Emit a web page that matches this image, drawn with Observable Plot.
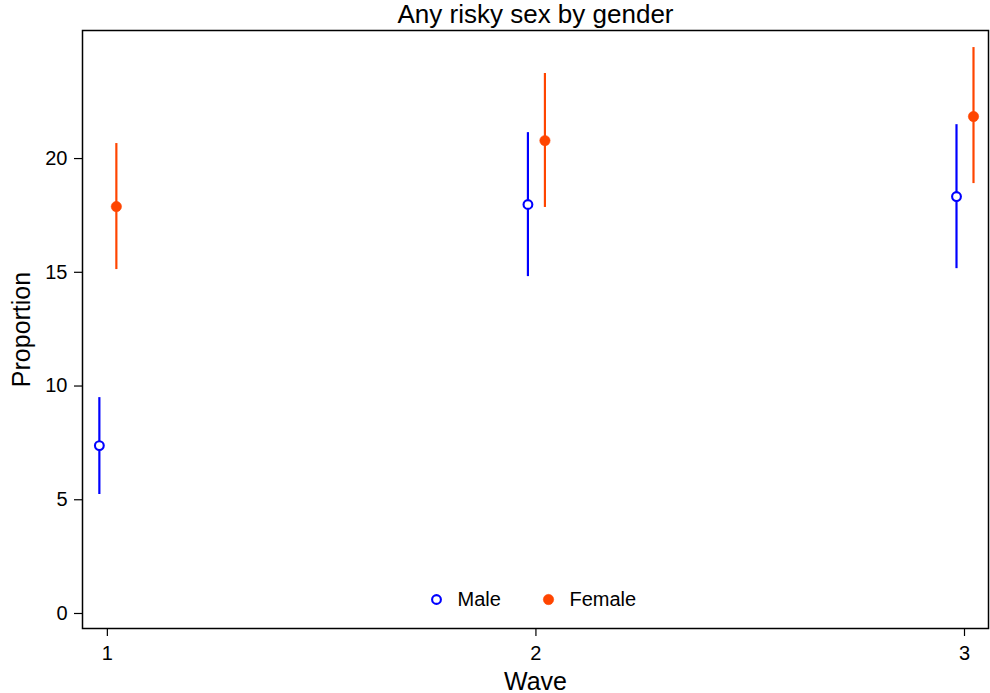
<!DOCTYPE html>
<html>
<head>
<meta charset="utf-8">
<script src="https://cdn.jsdelivr.net/npm/d3@7"></script>
<script src="https://cdn.jsdelivr.net/npm/@observablehq/plot@0.6"></script>
<style>
  html, body { margin: 0; padding: 0; background: #fff; }
  #chart { width: 990px; height: 693px; }
</style>
</head>
<body>
<div id="chart"></div>
<script>
const waves = [1, 2, 3];
const maleEst = [7.38, 17.98, 18.33];
const maleLo = [5.23, 14.81, 15.16];
const maleHi = [9.49, 21.14, 21.49];
const femaleEst = [17.89, 20.79, 21.85];
const femaleLo = [15.12, 17.85, 18.90];
const femaleHi = [20.66, 23.74, 24.88];
const yTicks = [0, 5, 10, 15, 20];
const xTicks = [1, 2, 3];
const seriesNames = ["Male", "Female"];
const title = "Any risky sex by gender";

const male = waves.map((w, i) => ({wave: w, est: maleEst[i], lo: maleLo[i], hi: maleHi[i]}));
const female = waves.map((w, i) => ({wave: w, est: femaleEst[i], lo: femaleLo[i], hi: femaleHi[i]}));

const BLUE = "#0000ff";
const ORANGE = "#ff4500";
const FONT = "'Liberation Sans', Arial, Helvetica, sans-serif";

const plot = Plot.plot({
  width: 990,
  height: 693,
  marginLeft: 82,
  marginRight: 2,
  marginTop: 30,
  marginBottom: 65,
  style: {fontFamily: FONT, fontSize: "20px", color: "#000", background: "#fff"},
  x: {domain: [0.942, 3.056]},
  y: {domain: [-0.66, 25.63]},
  marks: [
    Plot.frame({stroke: "#000", strokeWidth: 1.5}),
    Plot.axisY({ticks: yTicks, tickSize: 8, tickPadding: 7, tickFormat: d => d, label: null, fontSize: 20, strokeWidth: 1.2}),
    Plot.axisX({ticks: xTicks, tickSize: 8, tickPadding: 9, tickFormat: d => d, label: null, fontSize: 20, strokeWidth: 1.2}),
    Plot.ruleX(male, {x: "wave", y1: "lo", y2: "hi", stroke: BLUE, strokeWidth: 2.2, dx: -8}),
    Plot.ruleX(female, {x: "wave", y1: "lo", y2: "hi", stroke: ORANGE, strokeWidth: 2.2, dx: 9}),
    Plot.dot(male, {x: "wave", y: "est", r: 4.4, stroke: BLUE, strokeWidth: 2.1, fill: "#fff", dx: -8}),
    Plot.dot(female, {x: "wave", y: "est", r: 5.2, fill: ORANGE, stroke: ORANGE, strokeWidth: 0.5, dx: 9}),
    // legend
    Plot.dot([seriesNames[0]], {frameAnchor: "bottom", dx: -99, dy: -29, r: 4.4, stroke: BLUE, strokeWidth: 2.1, fill: "#fff"}),
    Plot.dot([seriesNames[1]], {frameAnchor: "bottom", dx: 13, dy: -29, r: 5.2, fill: ORANGE, stroke: ORANGE, strokeWidth: 0.5}),
    Plot.text([seriesNames[0]], {frameAnchor: "bottom", text: d => d, dx: -78, dy: -29, textAnchor: "start", lineAnchor: "middle", fontSize: 20, fill: "#000"}),
    Plot.text([seriesNames[1]], {frameAnchor: "bottom", text: d => d, dx: 34, dy: -29, textAnchor: "start", lineAnchor: "middle", fontSize: 20, fill: "#000"}),
    // titles
    Plot.text([title], {frameAnchor: "top", text: d => d, dy: -16, lineAnchor: "middle", fontSize: 26, fill: "#000"}),
    Plot.text(["Proportion"], {frameAnchor: "left", text: d => d, dx: -61, rotate: -90, textAnchor: "middle", lineAnchor: "middle", fontSize: 25, fill: "#000"}),
    Plot.text(["Wave"], {frameAnchor: "bottom", text: d => d, dy: 53, lineAnchor: "middle", fontSize: 25, fill: "#000"})
  ]
});
document.getElementById("chart").appendChild(plot);
</script>
</body>
</html>
